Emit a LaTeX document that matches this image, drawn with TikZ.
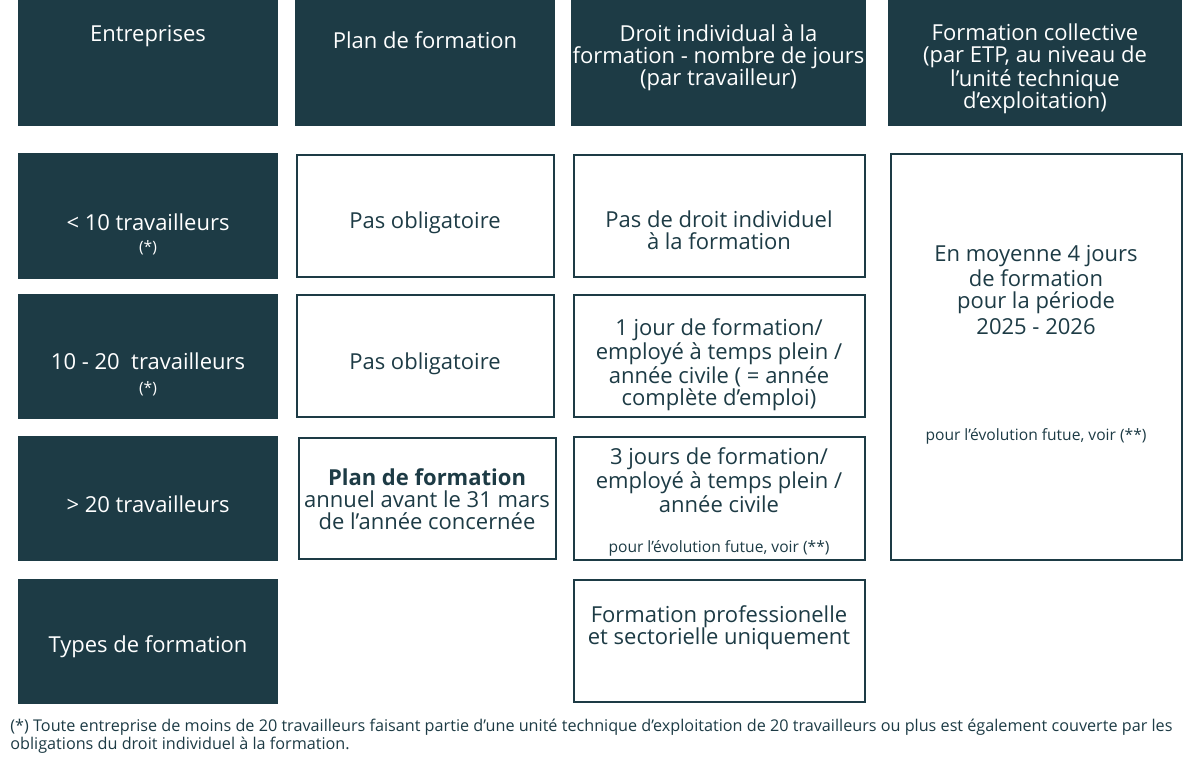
\documentclass[tikz,border=0pt]{standalone}
\usepackage{fontspec}
\setmainfont{Open Sans}
\usepackage{tikz}
\usetikzlibrary{positioning}
\definecolor{petrol}{HTML}{1D3B45}

\begin{document}
\begin{tikzpicture}[x=0.5pt,y=-0.5pt,
    darkbox/.style={fill=petrol,draw=none,inner sep=0pt},
    linebox/.style={draw=petrol,line width=1pt,fill=white,inner sep=0pt},
    txt/.style={align=center,text=petrol,inner sep=0pt,font=\fontsize{11}{11}\selectfont},
    wtxt/.style={txt,text=white},
    note/.style={txt,font=\fontsize{7.8}{9}\selectfont}]
       \useasboundingbox (0,0) rectangle (1200,759);

       % header row
       \node[darkbox,minimum width=130pt,minimum height=63pt]   (h_ent)  at (148,63)    {};
       \node[darkbox,minimum width=130pt,minimum height=63pt]   (h_plan) at (425,63)    {};
       \node[darkbox,minimum width=147.5pt,minimum height=63pt] (h_dif)  at (718.5,63)  {};
       \node[darkbox,minimum width=147pt,minimum height=63pt]   (h_coll) at (1035,63)   {};

       \node[wtxt] (t_ent)  at (148,36)   {Entreprises};
       \node[wtxt] (t_plan) at (425,40)   {Plan de formation};
       \node[wtxt] (t_dif)  at (718.5,58) {Droit individual à la\\formation - nombre de jours\\(par travailleur)};
       \node[wtxt] (t_coll) at (1035,69)  {Formation collective\\(par ETP, au niveau de\\l’unité technique\\d’exploitation)};

       % first column
       \node[darkbox,minimum width=130pt,minimum height=63pt]   (r_1) at (148,216)   {};
       \node[darkbox,minimum width=130pt,minimum height=62.5pt] (r_2) at (148,356.5) {};
       \node[darkbox,minimum width=130pt,minimum height=62.5pt] (r_3) at (148,498.5) {};
       \node[darkbox,minimum width=130pt,minimum height=62.5pt] (r_4) at (148,641.5) {};

       \node[wtxt] (t_r1)  at (148,222) {< 10 travailleurs};
       \node[note,text=white] (n_r1) at (148,248) {(*)};
       \node[wtxt] (t_r2)  at (148,361) {10 - 20~~travailleurs};
       \node[note,text=white] (n_r2) at (148,389) {(*)};
       \node[wtxt] (t_r3)  at (148,504) {> 20 travailleurs};
       \node[wtxt] (t_r4)  at (148,647) {Types de formation};

       % plan de formation
       \node[linebox,minimum width=128.5pt,minimum height=61pt]   (p_1) at (425.5,216)   {};
       \node[linebox,minimum width=128.5pt,minimum height=61pt]   (p_2) at (425.5,356)   {};
       \node[linebox,minimum width=128.5pt,minimum height=60.5pt] (p_3) at (427.5,498.5) {};

       \node[txt] (t_p1) at (425,223) {Pas obligatoire};
       \node[txt] (t_p2) at (425,364) {Pas obligatoire};
       \node[txt] (t_p3) at (427,499.5) {\textbf{Plan de formation}\\annuel avant le 31 mars\\de l’année concernée};

       % droit individuel
       \node[linebox,minimum width=145.5pt,minimum height=61pt]   (d_1) at (719.5,216)   {};
       \node[linebox,minimum width=145.5pt,minimum height=61pt]   (d_2) at (719.5,356)   {};
       \node[linebox,minimum width=145.5pt,minimum height=61.5pt] (d_3) at (719.5,498.5) {};
       \node[linebox,minimum width=145.5pt,minimum height=61pt]   (d_4) at (719.5,641)   {};

       \node[txt] (t_d1) at (719,230.5) {Pas de droit individuel\\à la formation};
       \node[txt] (t_d2) at (719,364.5) {1 jour de formation/\\employé à temps plein /\\année civile ( = année\\complète d’emploi)};
       \node[txt] (t_d3) at (719,480)   {3 jours de formation/\\employé à temps plein /\\année civile};
       \node[note] (n_d3) at (719,548)  {pour l’évolution futue, voir (**)};
       \node[txt] (t_d4) at (719,628)   {Formation professionelle\\et sectorielle uniquement};

       % formation collective
       \node[linebox,minimum width=145.5pt,minimum height=203pt] (c_1) at (1036.5,357) {};
       \node[txt] (t_c1) at (1036,290) {En moyenne 4 jours\\de formation\\pour la période\\[2pt]2025 - 2026};
       \node[note] (n_c1) at (1036,436) {pour l’évolution futue, voir (**)};

       % footnote
       \node[txt,anchor=west,align=left,font=\fontsize{8.1}{9}\selectfont] (foot) at (10,736)
         {(*) Toute entreprise de moins de 20 travailleurs faisant partie d’une unité technique d’exploitation de 20 travailleurs ou plus est également couverte par les\\obligations du droit individuel à la formation.};
     \end{tikzpicture}
\end{document}
